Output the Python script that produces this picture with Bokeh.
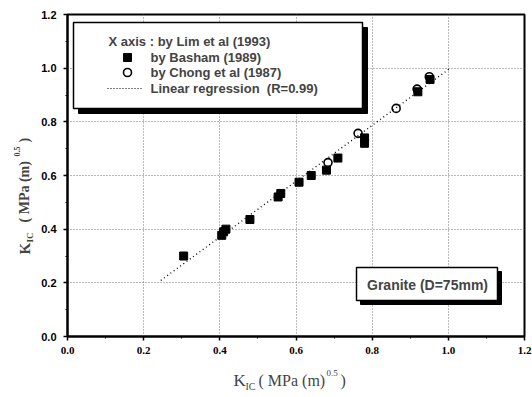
import math
from bokeh.plotting import figure
from bokeh.layouts import row, column
from bokeh.models import (Range1d, FixedTicker, NumeralTickFormatter, Label,
                          BoxAnnotation)
from bokeh.embed import file_html
from bokeh.resources import INLINE

# ---- data ----
basham_x = [0.305, 0.405, 0.41, 0.416, 0.479, 0.553, 0.56, 0.608, 0.64,
            0.68, 0.71, 0.78, 0.78, 0.92, 0.952]
basham_y = [0.300, 0.377, 0.39, 0.400, 0.436, 0.520, 0.533, 0.575, 0.600,
            0.620, 0.665, 0.720, 0.740, 0.912, 0.958]
chong_x = [0.684, 0.763, 0.863, 0.918, 0.950]
chong_y = [0.648, 0.757, 0.850, 0.922, 0.968]
reg_x = [0.245, 1.005]
reg_y = [0.209, 1.000]
ticks = [0.0, 0.2, 0.4, 0.6, 0.8, 1.0, 1.2]
minor = [0.1, 0.3, 0.5, 0.7, 0.9, 1.1]

W, H = 532, 397
LW = 34          # width of the left strip holding the y title
MH = 362         # height of the main figure
FL, FR, FT, FB = 67, 524, 14, 336  # frame edges in canvas px


def dx(px):
    return (px - FL) / (FR - FL) * 1.2


def dy(py):
    return (FB - py) / (FB - FT) * 1.2


p = figure(width=W - LW, height=MH, output_backend="svg", toolbar_location=None,
           x_range=Range1d(0, 1.2), y_range=Range1d(0, 1.2),
           min_border_left=FL - LW, min_border_right=W - FR,
           min_border_top=FT, min_border_bottom=MH - FB)
p.background_fill_color = "white"
p.border_fill_color = "white"
p.outline_line_color = "black"
p.outline_line_width = 2

for ax in (p.xaxis[0], p.yaxis[0]):
    ax.ticker = FixedTicker(ticks=ticks, minor_ticks=minor)
    ax.formatter = NumeralTickFormatter(format="0.0")
    ax.axis_line_width = 2
    ax.major_tick_out = 4
    ax.major_tick_in = 0
    ax.minor_tick_out = 2
    ax.minor_tick_in = 0
    ax.major_tick_line_width = 1.5
    ax.major_label_text_font_style = "bold"
    ax.major_label_text_font_size = "11px"
    ax.major_label_text_color = "black"
p.xaxis.major_label_text_font = "Liberation Serif"
p.yaxis.major_label_text_font = "Liberation Sans"
p.xaxis.major_label_standoff = 6
p.yaxis.major_label_standoff = 7

for g in (p.xgrid[0], p.ygrid[0]):
    g.ticker = FixedTicker(ticks=ticks)
    g.grid_line_color = "#777777"
    g.grid_line_dash = "1 2"
    g.grid_line_width = 1


def box(l, r, t, b, fill, lw):
    p.add_layout(BoxAnnotation(left=dx(l), right=dx(r), top=dy(t), bottom=dy(b),
                               fill_color=fill, fill_alpha=1, line_color="black",
                               line_alpha=1, line_width=lw, level="underlay"))


# legend and info boxes (drawn under the glyphs)
box(78, 367, 27, 113, "black", 1)
box(73, 362, 22, 108, "white", 1.5)
box(360, 501, 271, 304, "black", 1)
box(356, 497, 267, 300, "white", 1.5)

# regression line
p.line(reg_x, reg_y, line_color="black", line_dash="1 3", line_width=1.3)
# data
p.scatter(basham_x, basham_y, marker="square", size=8, fill_color="black",
          line_color="black")
p.scatter(chong_x, chong_y, marker="circle", size=8, fill_color="white",
          fill_alpha=0.0, line_color="black", line_width=1.6)

# ---- legend content ----
LF = "Liberation Sans"
legend_rows = [("X axis : by Lim et al (1993)", 108, 41),
               ("by Basham (1989)", 150, 57),
               ("by Chong et al (1987)", 150, 72),
               ("Linear regression\u00a0\u00a0(R=0.99)", 150, 88)]
for txt, xx, yy in legend_rows:
    p.add_layout(Label(x=dx(xx), y=dy(yy), text=txt, text_font=LF,
                       text_font_style="bold", text_font_size="13px",
                       text_align="left", text_baseline="middle"))
p.scatter([dx(127)], [dy(57)], marker="square", size=8, fill_color="black",
          line_color="black")
p.scatter([dx(127)], [dy(72)], marker="circle", size=8, fill_color="white",
          line_color="black", line_width=1.6)
p.line([dx(107), dx(143)], [dy(88), dy(88)], line_color="black",
       line_dash="1 2", line_width=1.2)

p.add_layout(Label(x=dx(427), y=dy(284), text="Granite (D=75mm)", text_font=LF,
                   text_font_style="bold", text_font_size="14px",
                   text_align="center", text_baseline="middle"))


def strip(w, h, x0, x1, bl, br):
    f = figure(width=w, height=h, output_backend="svg", toolbar_location=None,
               x_range=Range1d(x0, x1), y_range=Range1d(h, 0),
               x_axis_location=None, y_axis_location=None,
               min_border_left=bl, min_border_right=br, min_border_top=0,
               min_border_bottom=0, title=None)
    f.outline_line_color = None
    f.grid.visible = False
    f.background_fill_color = "white"
    f.border_fill_color = "white"
    return f


SF = "Liberation Serif"

# y title strip (left, full height); pieces run upward from their start
ls = strip(LW, H, 0, LW, 0, 0)
yparts = [("K", 24, 254, "15px"), ("IC", 29, 242, "9px"),
          ("( MPa (m)", 24, 222, "14px"), ("0.5", 16, 156, "8px"),
          (")", 24, 142, "14px")]
for txt, xx, yy, fs in yparts:
    ls.add_layout(Label(x=xx, y=yy, text=txt, text_font=SF,
                        text_font_style="bold", text_font_size=fs,
                        text_align="left", text_baseline="middle",
                        angle=math.pi / 2))

# x title strip (below main figure); its frame lines up with the main frame
bs = strip(W - LW, H - MH, FL, FR, FL - LW, W - FR)
xparts = [("K", 233, 380, "17px"), ("IC", 245, 386, "10px"),
          ("( MPa (m)", 258, 380, "16px"), ("0.5", 326, 372, "9px"),
          (")", 340, 380, "16px")]
for txt, xx, yy, fs in xparts:
    bs.add_layout(Label(x=xx, y=yy - MH, text=txt, text_font=SF,
                        text_font_size=fs, text_align="left",
                        text_baseline="middle"))

layout = row(ls, column(p, bs, spacing=0), spacing=0)
open("out.html", "w").write(file_html(layout, INLINE))
